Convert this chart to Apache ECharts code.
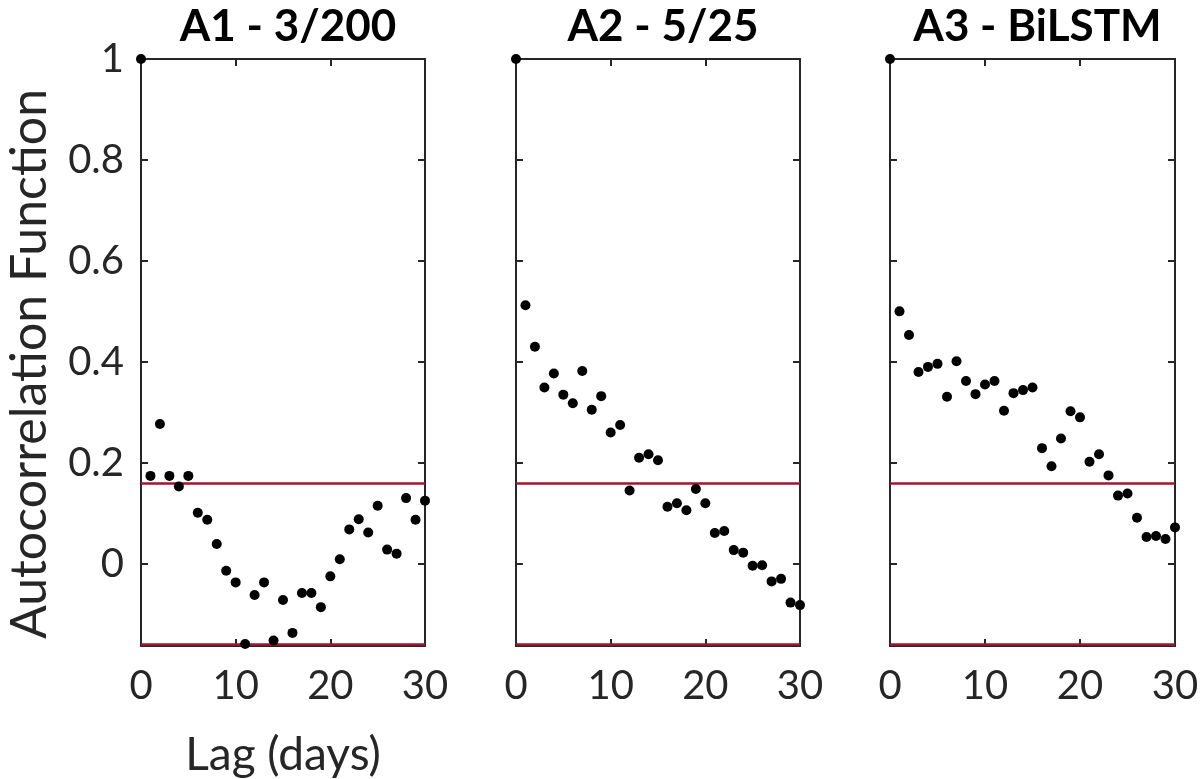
<!DOCTYPE html>
<html>
<head>
<meta charset="utf-8">
<script src="https://cdn.jsdelivr.net/npm/echarts@6/dist/echarts.min.js"></script>
<style>html,body{margin:0;padding:0;background:#fff}#c{width:1200px;height:779px}</style>
</head>
<body>
<div id="c"></div>
<script>
// ---- data ----
const lags = [0,1,2,3,4,5,6,7,8,9,10,11,12,13,14,15,16,17,18,19,20,21,22,23,24,25,26,27,28,29,30];
const panelTitles = ['A1 - 3/200', 'A2 - 5/25', 'A3 - BiLSTM'];
const acfA1 = [1,0.174,0.277,0.174,0.153,0.174,0.101,0.087,0.039,-0.014,-0.037,-0.159,-0.062,-0.037,-0.152,-0.072,-0.137,-0.058,-0.058,-0.086,-0.025,0.009,0.068,0.088,0.062,0.115,0.028,0.020,0.130,0.087,0.125];
const acfA2 = [1,0.512,0.430,0.349,0.377,0.335,0.318,0.382,0.305,0.332,0.260,0.275,0.145,0.210,0.217,0.205,0.113,0.120,0.106,0.148,0.120,0.061,0.065,0.027,0.022,-0.004,-0.003,-0.035,-0.030,-0.077,-0.082];
const acfA3 = [1,0.500,0.453,0.380,0.390,0.396,0.331,0.401,0.362,0.336,0.355,0.362,0.303,0.338,0.344,0.349,0.229,0.193,0.248,0.302,0.290,0.202,0.217,0.175,0.135,0.139,0.091,0.053,0.055,0.049,0.072];
const confBound = 0.163;
const yTickValues = [0, 0.2, 0.4, 0.6, 0.8, 1];
const yTickLabels = ['0', '0.2', '0.4', '0.6', '0.8', '1'];
const xTickLabels = ['0', '10', '20', '30'];
const yTitle = 'Autocorrelation Function';
const xTitle = 'Lag (days)';

// ---- layout ----
const FONT = 'Lato';
const AXC = '#262626';
const RED = '#A2142F';
const grids = [
  {left: 141, top: 59, width: 284, height: 587, containLabel: false, outerBoundsMode: 'none'},
  {left: 516, top: 59, width: 284, height: 587, containLabel: false, outerBoundsMode: 'none'},
  {left: 890, top: 59, width: 285, height: 587, containLabel: false, outerBoundsMode: 'none'}
];
const series_vals = [acfA1, acfA2, acfA3];

const xAxes = [], yAxes = [], series = [], titles = [];
grids.forEach((g, i) => {
  const line = {show: true, onZero: false, lineStyle: {color: AXC, width: 2}};
  const tick = {show: true, inside: true, length: 7, lineStyle: {color: AXC, width: 2}};
  xAxes.push({
    gridIndex: i, type: 'value', min: 0, max: 30, interval: 10, position: 'bottom',
    axisLine: line, axisTick: tick, splitLine: {show: false},
    axisLabel: {show: true, margin: 20, color: AXC, fontFamily: FONT, fontSize: 40,
      formatter: v => xTickLabels[Math.round(v / 10)]},
    name: i === 0 ? xTitle : '', nameLocation: 'middle', nameGap: 86,
    nameTextStyle: {fontFamily: FONT, fontSize: 46, color: AXC}
  });
  xAxes.push({
    gridIndex: i, type: 'value', min: 0, max: 30, interval: 10, position: 'top',
    axisLine: line, axisTick: tick, splitLine: {show: false}, axisLabel: {show: false}
  });
  yAxes.push({
    gridIndex: i, type: 'value', min: -confBound, max: 1, position: 'left',
    axisLine: line,
    axisTick: Object.assign({customValues: yTickValues}, tick),
    splitLine: {show: false},
    axisLabel: {show: i === 0, customValues: yTickValues, margin: 17, color: AXC,
      fontFamily: FONT, fontSize: 40,
      formatter: v => yTickLabels[yTickValues.findIndex(t => Math.abs(t - v) < 1e-9)]}
  });
  yAxes.push({
    gridIndex: i, type: 'value', min: -confBound, max: 1, position: 'right',
    axisLine: line,
    axisTick: Object.assign({customValues: yTickValues}, tick),
    splitLine: {show: false}, axisLabel: {show: false}
  });
  series.push({
    type: 'scatter', xAxisIndex: 2 * i, yAxisIndex: 2 * i, clip: false, z: 5,
    symbol: 'circle', symbolSize: 10, itemStyle: {color: '#000', opacity: 1},
    data: lags.map((l, k) => [l, series_vals[i][k]]),
    markLine: {
      silent: true, symbol: 'none', animation: false,
      label: {show: false},
      lineStyle: {color: RED, width: 2.5, type: 'solid', opacity: 1},
      data: [{yAxis: confBound}, {yAxis: -confBound}]
    },
    animation: false
  });
  titles.push({
    text: panelTitles[i], left: g.left + g.width / 2, top: 0, textAlign: 'center',
    textStyle: {fontFamily: FONT, fontWeight: 'bold', fontSize: 44, color: '#000'}
  });
});

const chart = echarts.init(document.getElementById('c'), null, {renderer: 'canvas'});
chart.setOption({
  animation: false,
  backgroundColor: '#fff',
  title: titles,
  grid: grids,
  xAxis: xAxes,
  yAxis: yAxes,
  series: series,
  graphic: [{
    type: 'text', x: 30, y: 364, rotation: Math.PI / 2,
    style: {text: yTitle, fontFamily: FONT, fontSize: 50, fill: AXC,
      textAlign: 'center', textVerticalAlign: 'middle'}
  }]
});
</script>
</body>
</html>
